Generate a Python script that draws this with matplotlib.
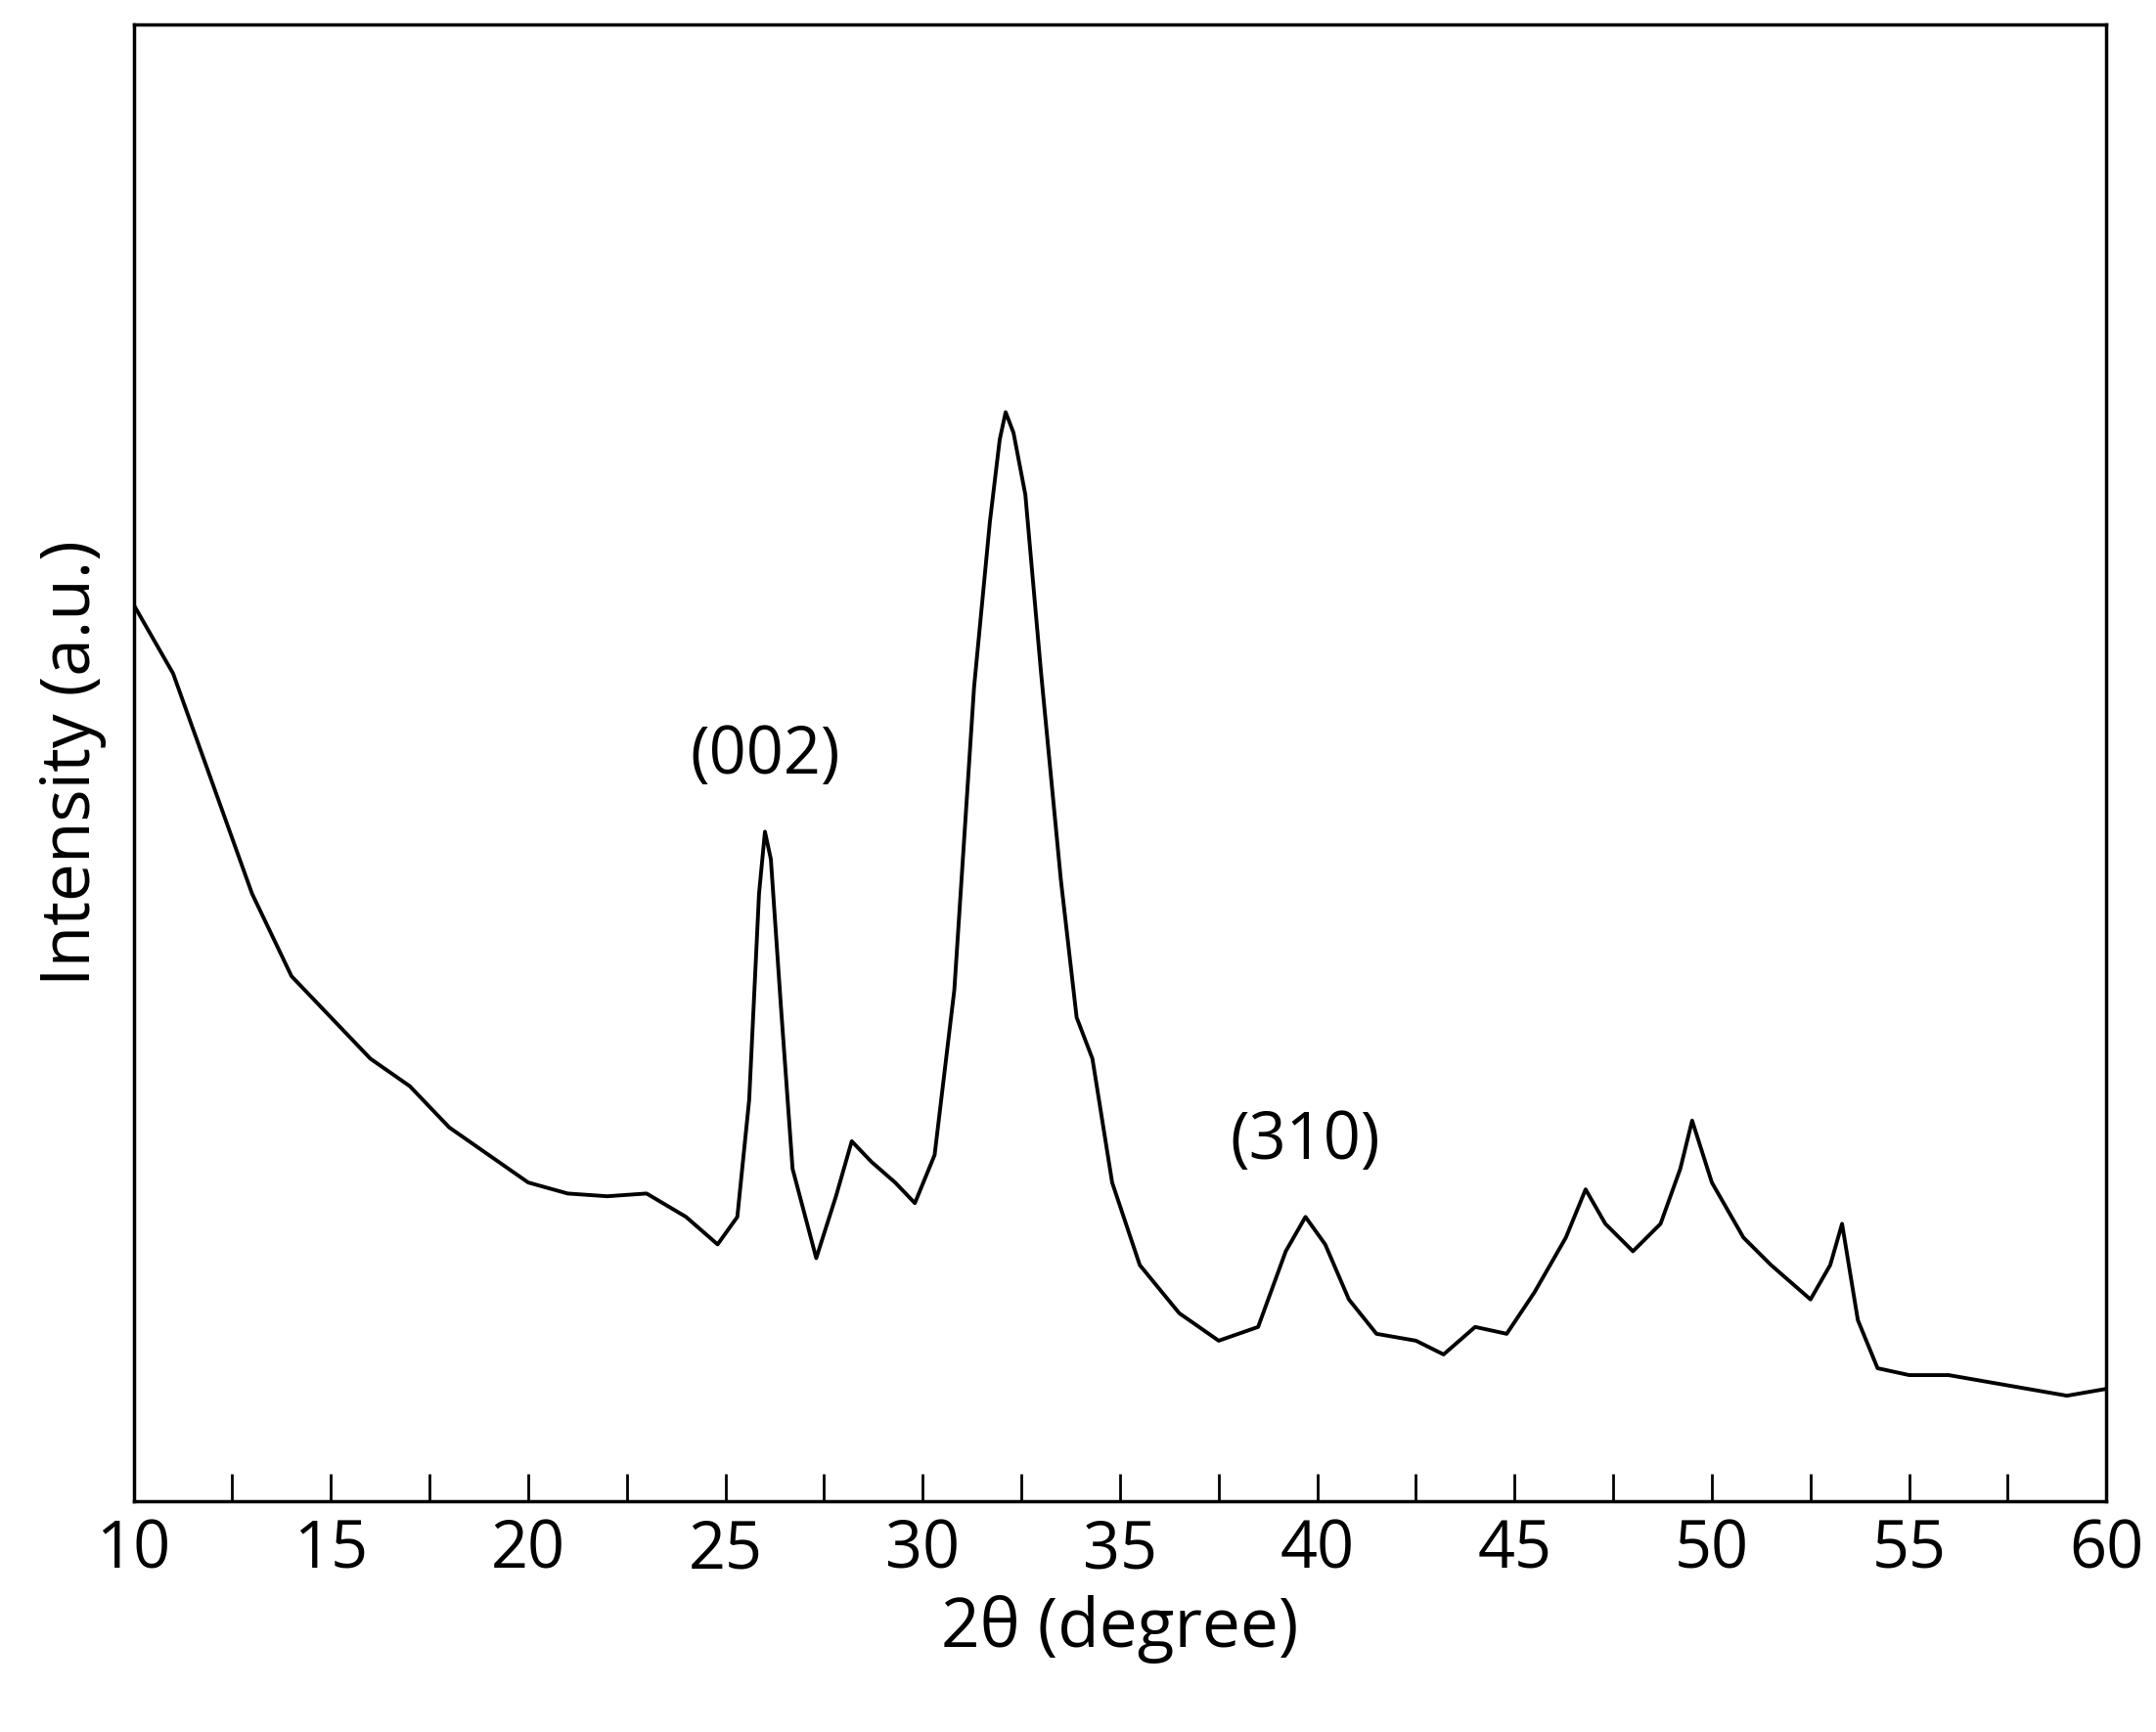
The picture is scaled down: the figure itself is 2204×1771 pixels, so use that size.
import matplotlib
matplotlib.use("Agg")
import matplotlib.pyplot as plt
from matplotlib.ticker import MultipleLocator

two_theta = [10, 10.5, 11, 11.5, 12, 12.5, 13, 13.5, 14, 15, 16, 17, 18, 19, 20, 21, 22, 23, 24, 24.8,
             25.3, 25.6, 25.85, 26.0, 26.15, 26.4, 26.7, 27.3, 27.8, 28.2, 28.7, 29.3, 29.8, 30.3, 30.8, 31.3, 31.7,
             31.95, 32.1, 32.3, 32.6, 33, 33.5, 33.9, 34.3, 34.8, 35.5, 36.5, 37.5, 38.5, 39.2, 39.7, 40.2, 40.8,
             41.5, 42.5, 43.2, 44, 44.8, 45.5, 46.3, 46.8, 47.3, 48, 48.7, 49.2, 49.5, 50, 50.8, 51.5,
             52.5, 53, 53.3, 53.7, 54.2, 55, 56, 57, 58, 59, 60]
pix = [440, 465, 490, 530, 570, 610, 650, 680, 710, 740, 770, 790, 820, 840, 860, 868, 870, 868, 885, 905,
       885, 800, 650, 605, 625, 730, 850, 915, 870, 830, 845, 860, 875, 840, 720, 500, 380,
       320, 300, 315, 360, 490, 640, 740, 770, 860, 920, 955, 975, 965, 910, 885, 905, 945,
       970, 975, 985, 965, 970, 940, 900, 865, 890, 910, 890, 850, 815, 860, 900, 920,
       945, 920, 890, 960, 995, 1000, 1000, 1005, 1010, 1015, 1010]
intensity = [1092 - p for p in pix]
labels = ["(002)", "(310)"]
label_x = [26.0, 39.7]
label_y = [1092 - 550, 1092 - 830]

plt.rcParams['font.family'] = ['Open Sans', 'DejaVu Sans']
fig = plt.figure(figsize=(22.04, 17.71), dpi=100)
ax = fig.add_axes([0.062, 0.133, 0.915, 0.853])
ax.plot(two_theta, intensity, color='black', lw=2.8)
ax.set_xlim(10, 60)
ax.set_ylim(0, 1074)
ax.set_yticks([])
ax.xaxis.set_major_locator(MultipleLocator(5))
ax.xaxis.set_minor_locator(MultipleLocator(2.5))
ax.tick_params(axis='x', which='both', direction='in', length=20, width=2, labelsize=48, pad=12)
for s in ax.spines.values():
    s.set_linewidth(2.5)
for t, x, y in zip(labels, label_x, label_y):
    ax.text(x, y, t, ha='center', va='center', fontsize=48)
ax.set_xlabel("2θ (degree)", fontsize=50, labelpad=8)
ax.set_ylabel("Intensity (a.u.)", fontsize=50, labelpad=20)
fig.savefig("out.png", dpi=100)
